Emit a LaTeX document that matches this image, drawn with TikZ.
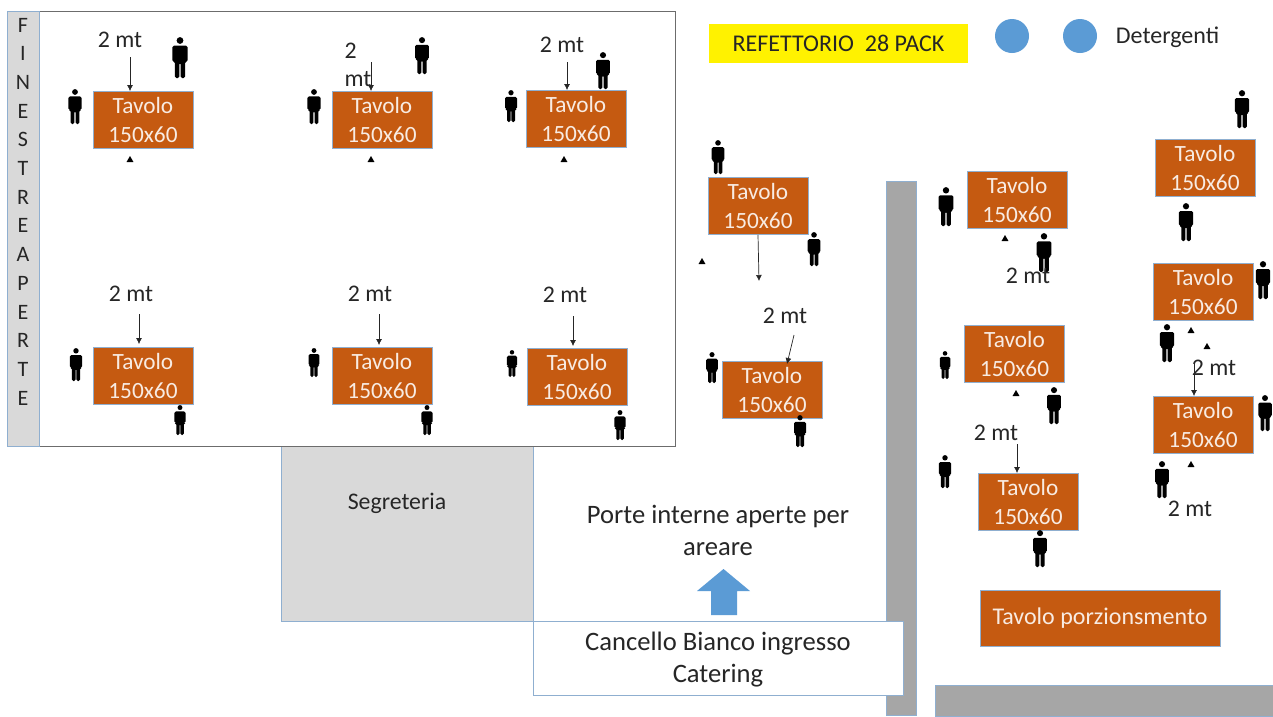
\documentclass[tikz,border=0pt]{standalone}
\usepackage{fontspec}
\setmainfont{Carlito}
\usetikzlibrary{arrows.meta,shapes.geometric,calc}
\definecolor{tavolo}{HTML}{C55A11}
\definecolor{edgeblue}{HTML}{8FAFD0}
\definecolor{lightg}{HTML}{D9D9D9}
\definecolor{wallg}{HTML}{A6A6A6}
\definecolor{bluefill}{HTML}{5B9BD5}
\definecolor{inkc}{HTML}{262626}
\tikzset{
  table/.style={draw=edgeblue,line width=0.9pt,fill=tavolo,text=white!88!tavolo,minimum width=100pt,minimum height=57pt,inner sep=0pt,align=center,font=\fontsize{23.3}{29}\selectfont},
  lbl/.style={text=inkc,inner sep=0pt,align=center,font=\fontsize{26.6}{32}\selectfont},
  dist/.style={lbl,font=\fontsize{23.8}{28}\selectfont},
  conn/.style={draw=inkc,line width=0.7pt,-{Latex[length=6pt,width=6pt]}},
  tick/.style={fill=black,draw=none,isosceles triangle,isosceles triangle apex angle=60,shape border rotate=90,minimum size=6pt,inner sep=0pt},
  room/.style={draw=edgeblue,line width=0.9pt},
  wall/.style={draw=edgeblue,line width=0.9pt,fill=wallg},
}
% person: centre x, top y, bottom y
\newcommand{\person}[3]{%
  \begin{scope}[shift={(#1,#2)},yscale={(#3-#2)/40},xscale={(#3-#2)/40}]
    \fill[black] (0,3.4) circle (3.3);
    \fill[black,rounded corners=1.5pt] (-7.5,8.5) -- (7.5,8.5) -- (7.5,24) -- (5,24) -- (5,40) -- (0.6,40) -- (0.6,25) -- (-0.6,25) -- (-0.6,40) -- (-5,40) -- (-5,24) -- (-7.5,24) -- cycle;
  \end{scope}}
\begin{document}
\begin{tikzpicture}[x=1pt,y=-1pt]
\useasboundingbox (0,0) rectangle (1273,716);
\fill[white] (0,0) rectangle (1273,716);
% rooms
\node[room,fill=lightg,minimum width=252pt,minimum height=175pt,inner sep=0pt,anchor=north west] (segr) at (281,446) {};
\node[lbl,font=\fontsize{23.8}{28}\selectfont] (segrtxt) at (397,503) {Segreteria};
\node[room,minimum width=0pt,minimum height=175pt,inner sep=0pt,anchor=north west] (porte) at (533,446) {};
\node[draw=gray!85!black,line width=1pt,fill=white,minimum width=667pt,minimum height=435pt,inner sep=0pt,anchor=north west] (sala) at (8,11) {};
\node[room,fill=lightg,minimum width=32pt,minimum height=435pt,inner sep=0pt,anchor=north west] (fin) at (7,11) {};
\foreach \c [count=\i from 0] in {F,I,N,E,S,T,R,E,A,P,E,R,T,E}{
  \node[lbl,font=\fontsize{22}{24}\selectfont] (fin\i) at (23,{25+28.7*\i}) {\c};
}
% walls
\node[wall,minimum width=30pt,minimum height=534pt,inner sep=0pt,anchor=north west] (wallv) at (886,181) {};
\node[wall,minimum width=339pt,minimum height=31pt,inner sep=0pt,anchor=north west] (wallh) at (935,685) {};
% header
\node[fill=yellow,minimum width=259pt,minimum height=39pt,inner sep=0pt,text=inkc,font=\fontsize{24}{28}\selectfont] (title) at (838.5,43.5) {REFETTORIO\ \ 28 PACK};
\node[circle,fill=bluefill,minimum size=34pt,inner sep=0pt] (c1) at (1012,36) {};
\node[circle,fill=bluefill,minimum size=34pt,inner sep=0pt] (c2) at (1080,36) {};
\node[lbl,font=\fontsize{24}{28}\selectfont] (det) at (1167.5,37) {Detergenti};
% tables
\foreach \n/\x/\y in {t1/143/120,t2/382/120,t3/576/119,t4/143/376,t5/382/376,t6/577/377,t7/758/206,t8/772/390,t9/1017/200,t10/1014.5/354,t11/1028/502,t12/1205/168,t13/1203/292,t14/1203/425}{
  \node[table] (\n) at (\x,\y) {Tavolo\\150x60};
}
\node[table,minimum width=240pt,minimum height=56pt,font=\fontsize{24}{28}\selectfont] (porz) at (1100,618) {Tavolo porzionsmento};
% persons
\person{180}{37}{78}\person{75}{89}{124}\person{422}{37}{74}\person{314}{89}{124}
\person{603}{52}{89}\person{511}{90}{122}\person{76}{348}{381}\person{180}{405}{435}
\person{314}{348}{377}\person{427}{405}{435}\person{512}{350}{377}\person{620}{410}{440}
\person{718}{140}{174}\person{814}{232}{266}\person{712}{352}{383}\person{800}{415}{447}
\person{946}{187}{226}\person{1044}{233}{272}\person{945}{351}{379}\person{1054}{387}{424}
\person{945}{455}{488}\person{1040}{530}{567}\person{1242}{90}{128}\person{1186}{203}{241}
\person{1263}{261}{299}\person{1167}{324}{362}\person{1265}{395}{431}\person{1162}{461}{498}
% small marks
\foreach \i/\x/\y in {1/130/160,2/371/160,3/564/160,4/702/262,5/1005/239,6/1016/394,7/1191/331,8/1207/347,9/1191/465}{
  \node[tick] (m\i) at (\x,\y) {};
}
% distance labels
\foreach \i/\x/\y in {1/120/40,3/562/45,4/131/294,5/370/294,6/565/295,7/785/316,8/1028/276,9/996/433,10/1214/368,11/1190/509}{
  \node[dist] (d\i) at (\x,\y) {2 mt};
}
\node[dist,align=left] (d2) at (358,65) {2\\mt};
% connectors
\coordinate (a1) at (130,57);
\coordinate (a2) at (371,62);
\coordinate (a3) at (567,62);
\coordinate (a4) at (139,314);
\coordinate (a5) at (379,314);
\coordinate (a6) at (573,316);
\coordinate (a7) at (759,281);
\coordinate (a8) at (794,335);
\coordinate (a8b) at (787,364);
\coordinate (a9) at (1017,444);
\coordinate (a10) at (1194,362);
\draw[conn] (a1) -- (a1 |- t1.north);
\draw[conn] (a2) -- (a2 |- t2.north);
\draw[conn] (a3) -- (a3 |- t3.north);
\draw[conn] (a4) -- ($(a4 |- t4.north)+(0,-3)$);
\draw[conn] (a5) -- ($(a5 |- t5.north)+(0,-2)$);
\draw[conn] (a6) -- ($(a6 |- t6.north)+(0,-2)$);
\draw[conn] (t7.south) -- (a7);
\draw[conn] (a8) -- (a8b);
\draw[conn] (a9) -- (a9 |- t11.north);
\draw[conn] (a10) -- (a10 |- t14.north);
% bottom
\node[lbl] (ptxt) at (718,530) {Porte interne aperte per\\areare};
\fill[bluefill] (723.5,569) -- (750,591) -- (737,591) -- (737,615) -- (711,615) -- (711,591) -- (697,591) -- cycle;
\node[room,fill=white,minimum width=370pt,minimum height=74pt,inner sep=0pt,anchor=north west] (canc) at (533,621) {};
\node[lbl] (canctxt) at (718,660) {Cancello Bianco ingresso\\Catering};
\end{tikzpicture}
\end{document}
